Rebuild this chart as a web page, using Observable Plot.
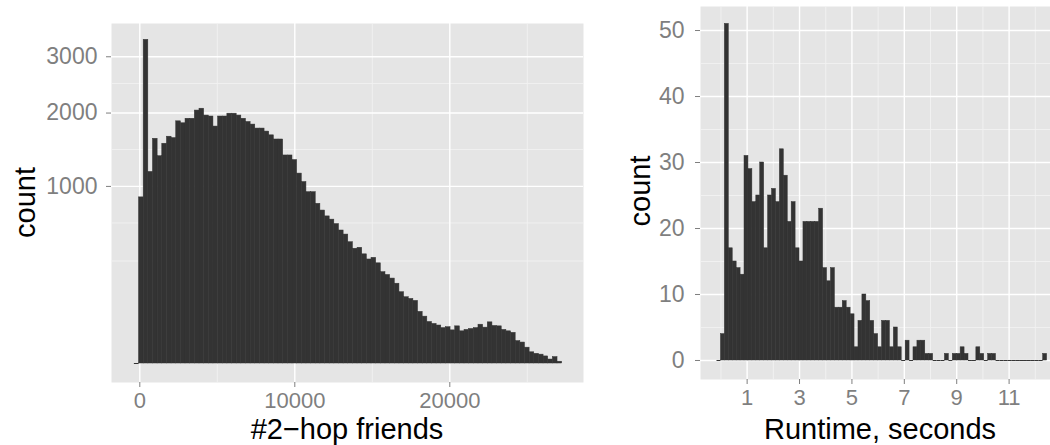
<!DOCTYPE html>
<html>
<head>
<meta charset="utf-8">
<script src="https://cdn.jsdelivr.net/npm/d3@7"></script>
<script src="https://cdn.jsdelivr.net/npm/@observablehq/plot@0.6"></script>
<style>
  body { margin: 0; background: #fff; }
  #chart { position: relative; width: 1050px; height: 445px; overflow: hidden; }
  #chart svg { position: absolute; top: 0; overflow: visible; max-width: none; }
</style>
</head>
<body>
<div id="chart"></div>
<script>
// Histogram of the number of 2-hop friends per user (300-wide bins)
const hopBinStart = -350;
const hopBinWidth = 300;
const hopCounts = [0, 880, 3340, 1170, 1610, 1370, 1540, 1640, 1620, 1870, 1840, 1910, 1910, 2040, 2070,
  1960, 1945, 1790, 1945, 1945, 1990, 1990, 1960, 1910, 1860, 1820, 1760, 1760, 1715, 1660, 1600, 1600,
  1380, 1380, 1320, 1150, 1050, 936, 936, 813, 746, 690, 660, 620, 564, 530, 469, 420, 427, 380, 345,
  356, 320, 266, 250, 230, 203, 162, 140, 133, 125, 85, 70, 55, 50, 46, 40, 42, 35, 44, 33, 36, 38, 40,
  48, 41, 54, 45, 44, 36, 33, 30, 16, 14, 8, 4, 3, 2.5, 1.6, 0.5, 1.3, 0.1];
const hopTicks = [0, 10000, 20000];
const hopMinorTicks = [5000, 15000, 25000];
const hopCountTicks = [1000, 2000, 3000];
const hopCountMinorTicks = [335, 630, 1460, 2500];

// Histogram of query runtimes in seconds (0.15 s bins)
const runBinStart = -0.15;
const runBinWidth = 0.15;
const runCounts = [0, 4, 51, 17, 15, 14, 13, 31, 29, 24, 25, 30, 17, 25, 26, 24, 32, 28, 21, 24, 17,
  15, 21, 21, 21, 21, 23, 14, 12, 14, 8, 8, 9, 8, 7, 2, 6, 10, 9, 6, 4, 2, 6, 6, 2, 5, 2, 0, 3, 0, 2,
  3, 3, 1, 1, 0, 0, 0, 1, 0, 1, 1, 2, 1, 0, 0, 2, 1, 0, 1, 1, 0, 0, 0, 0, 0, 0, 0, 0, 0, 0, 0, 0, 1];
const runTicks = [1, 3, 5, 7, 9, 11];
const runMinorTicks = [0, 2, 4, 6, 8, 10, 12];
const runCountTicks = [0, 10, 20, 30, 40, 50];
const runCountMinorTicks = [5, 15, 25, 35, 45];

const FONT = '"Liberation Sans", Arial, Helvetica, sans-serif';
const PANEL = "#e5e5e5";
const BAR = "#333333";
const TICK = "#7f7f7f";
const TITLE_SIZE = 29;

function toBins(start, width, counts) {
  return counts.map((count, i) => ({x1: start + i * width, x2: start + (i + 1) * width, count}));
}

function histogramMarks(bins, xMajor, xMinor, yMajor, yMinor, tickPadY) {
  const grid = {strokeOpacity: 1};
  return [
    Plot.frame({fill: PANEL, stroke: "none"}),
    Plot.gridX(xMinor, {...grid, stroke: "#f2f2f2", strokeWidth: 0.9}),
    Plot.gridY(yMinor, {...grid, stroke: "#f2f2f2", strokeWidth: 0.9}),
    Plot.gridX(xMajor, {...grid, stroke: "#ffffff", strokeWidth: 1.4}),
    Plot.gridY(yMajor, {...grid, stroke: "#ffffff", strokeWidth: 1.4}),
    // a hairline outline closes the anti-aliasing seams between neighbouring bars
    Plot.rectY(bins.filter(d => d.count > 0), {x1: "x1", x2: "x2", y: "count", fill: BAR, stroke: BAR, strokeWidth: 0.5, inset: 0}),
    Plot.ruleY(bins.filter(d => d.count === 0), {x1: "x1", x2: "x2", y: 0, stroke: BAR, strokeWidth: 1}),
    Plot.axisX(xMajor, {tickSize: 5, tickPadding: 5, color: TICK, fontSize: 22, tickFormat: "d", label: null}),
    Plot.axisY(yMajor, {tickSize: 5, tickPadding: tickPadY, color: TICK, fontSize: 23, tickFormat: "d", label: null})
  ];
}

function addTitles(svg, xTitle, xPos, yPos) {
  const s = d3.select(svg);
  s.append("text")
    .attr("x", xPos[0]).attr("y", xPos[1])
    .attr("text-anchor", "middle")
    .attr("font-size", TITLE_SIZE).attr("font-family", FONT).attr("fill", "#000")
    .text(xTitle);
  s.append("text")
    .attr("transform", `translate(${yPos[0]},${yPos[1]}) rotate(-90)`)
    .attr("text-anchor", "middle")
    .attr("font-size", TITLE_SIZE).attr("font-family", FONT).attr("fill", "#000")
    .text("count");
}

const chart = document.getElementById("chart");

const hopPlot = Plot.plot({
  width: 600,
  height: 445,
  marginLeft: 111,
  marginRight: 17,
  marginTop: 23,
  marginBottom: 63,
  style: {fontFamily: FONT, background: "transparent", overflow: "visible"},
  x: {domain: [-1826, 28626]},
  y: {type: "sqrt", domain: [0, 3686], range: [363, 23]},
  marks: histogramMarks(toBins(hopBinStart, hopBinWidth, hopCounts),
    hopTicks, hopMinorTicks, hopCountTicks, hopCountMinorTicks, 9)
});
hopPlot.style.left = "0px";
addTitles(hopPlot, "#2\u2212hop friends", [347, 438.5], [35, 202.5]);
chart.appendChild(hopPlot);

const runPlot = Plot.plot({
  width: 450,
  height: 445,
  marginLeft: 100,
  marginRight: 0,
  marginTop: 6,
  marginBottom: 66,
  style: {fontFamily: FONT, background: "transparent", overflow: "visible"},
  x: {domain: [-0.78, 12.58]},
  y: {domain: [-2.88, 53.64]},
  marks: histogramMarks(toBins(runBinStart, runBinWidth, runCounts),
    runTicks, runMinorTicks, runCountTicks, runCountMinorTicks, 11)
});
runPlot.style.left = "600px";
addTitles(runPlot, "Runtime, seconds", [280, 438.5], [50, 191]);
chart.appendChild(runPlot);
</script>
</body>
</html>
